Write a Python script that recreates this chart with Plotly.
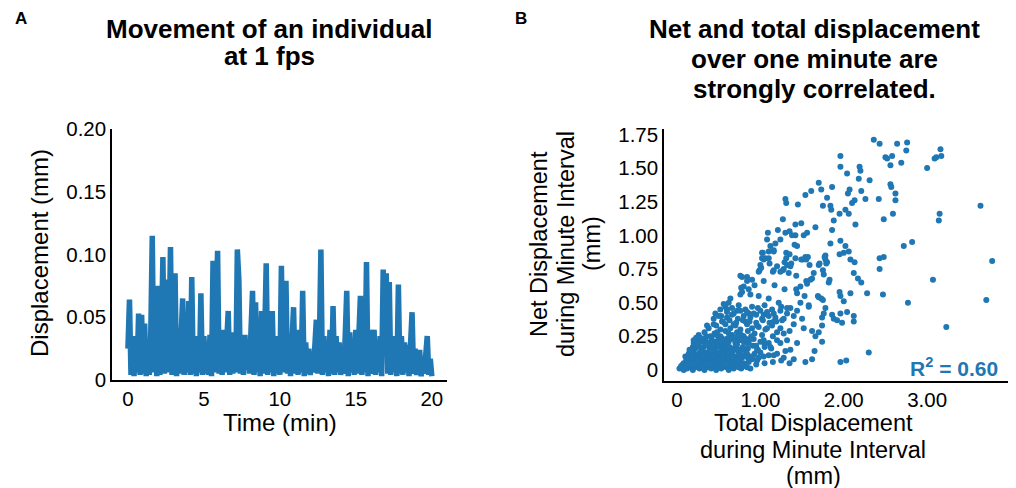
import plotly.graph_objects as go

BLUE = "#1f77b4"
FONT = "Liberation Sans, Arial, sans-serif"

# ---------------- Panel A data: displacement per sample (every 0.1 min) ----------------
time_min = [round(i * 0.1, 1) for i in range(201)]
displacement_mm = [
    0.025, 0.064, 0.004, 0.035, 0.003, 0.030, 0.006, 0.053, 0.004, 0.052,
    0.005, 0.045, 0.003, 0.028, 0.004, 0.035, 0.115, 0.006, 0.040, 0.003,
    0.075, 0.004, 0.035, 0.098, 0.005, 0.080, 0.006, 0.030, 0.106, 0.004,
    0.040, 0.085, 0.003, 0.035, 0.005, 0.030, 0.065, 0.004, 0.038, 0.006,
    0.063, 0.004, 0.082, 0.005, 0.035, 0.003, 0.030, 0.006, 0.069, 0.004,
    0.035, 0.005, 0.030, 0.004, 0.036, 0.003, 0.095, 0.006, 0.040, 0.103,
    0.005, 0.035, 0.004, 0.040, 0.006, 0.030, 0.055, 0.004, 0.038, 0.005,
    0.035, 0.006, 0.104, 0.080, 0.005, 0.032, 0.004, 0.036, 0.008, 0.030,
    0.005, 0.040, 0.071, 0.004, 0.062, 0.006, 0.045, 0.003, 0.055, 0.005,
    0.035, 0.093, 0.004, 0.040, 0.006, 0.055, 0.003, 0.035, 0.005, 0.030,
    0.004, 0.091, 0.006, 0.040, 0.079, 0.005, 0.035, 0.003, 0.045, 0.058,
    0.005, 0.035, 0.004, 0.040, 0.006, 0.071, 0.003, 0.030, 0.005, 0.025,
    0.004, 0.020, 0.006, 0.035, 0.048, 0.005, 0.030, 0.104, 0.004, 0.035,
    0.006, 0.028, 0.003, 0.040, 0.005, 0.059, 0.004, 0.035, 0.006, 0.030,
    0.004, 0.025, 0.005, 0.035, 0.071, 0.003, 0.038, 0.006, 0.030, 0.004,
    0.040, 0.005, 0.045, 0.067, 0.004, 0.035, 0.006, 0.094, 0.003, 0.040,
    0.005, 0.035, 0.040, 0.004, 0.030, 0.006, 0.035, 0.003, 0.088, 0.040,
    0.085, 0.005, 0.078, 0.004, 0.035, 0.006, 0.030, 0.003, 0.076, 0.005,
    0.035, 0.004, 0.030, 0.006, 0.028, 0.003, 0.035, 0.054, 0.005, 0.025,
    0.004, 0.020, 0.024, 0.003, 0.018, 0.005, 0.030, 0.035, 0.004, 0.017,
    0.003,
]

a_xticks = [0, 5, 10, 15, 20]
a_yticks = [0, 0.05, 0.10, 0.15, 0.20]
a_yticklabels = ["0", "0.05", "0.10", "0.15", "0.20"]

# ---------------- Panel B data: total vs net displacement per minute ----------------
# dense cluster near origin
cluster_x = [
    0.03, 0.06, 0.08, 0.10, 0.12, 0.15, 0.17, 0.19, 0.22, 0.25, 0.27, 0.30, 0.33, 0.35, 0.38, 0.41, 0.44, 0.47,
    0.50, 0.53, 0.56, 0.59, 0.62, 0.65, 0.68, 0.71, 0.74, 0.77, 0.80, 0.84, 0.88, 0.95, 1.05, 1.15, 1.35, 1.25,
    0.08, 0.11, 0.14, 0.18, 0.21, 0.24, 0.28, 0.31, 0.34, 0.37, 0.40, 0.43, 0.46, 0.49, 0.52, 0.55, 0.58, 0.61,
    0.64, 0.67, 0.70, 0.73, 0.76, 0.80, 0.90, 0.98,
    0.10, 0.14, 0.17, 0.20, 0.23, 0.26, 0.29, 0.32, 0.35, 0.38, 0.41, 0.44, 0.47, 0.50, 0.53, 0.56, 0.59, 0.62,
    0.66, 0.70, 0.74, 0.78, 0.83, 0.88, 0.93, 1.00, 1.10, 1.20,
    0.15, 0.19, 0.22, 0.26, 0.29, 0.32, 0.36, 0.39, 0.42, 0.45, 0.48, 0.51, 0.54, 0.57, 0.60, 0.63, 0.67, 0.71,
    0.75, 0.79, 0.85, 0.91, 0.97, 1.05, 1.13, 1.30,
    0.20, 0.25, 0.30, 0.34, 0.38, 0.42, 0.46, 0.50, 0.54, 0.58, 0.62, 0.66, 0.70, 0.75, 0.80, 0.86, 0.92, 1.00,
    1.10, 1.20,
    0.26, 0.33, 0.45, 0.52, 0.58, 0.66, 0.72, 0.80, 0.85, 0.93, 1.02, 1.15, 1.28,
    0.05, 0.09, 0.13, 0.16, 0.20, 0.24, 0.28, 0.32, 0.36, 0.40, 0.45, 0.50, 0.55, 0.60, 0.65, 0.70, 0.78,
    0.12, 0.18, 0.24, 0.30, 0.36, 0.42, 0.48, 0.54, 0.60, 0.68, 0.35, 0.44, 0.56, 0.63,
    0.07, 0.11, 0.16, 0.21, 0.26, 0.31, 0.36, 0.41, 0.46, 0.51, 0.56, 0.61, 0.66, 0.71, 0.76, 0.81, 0.86,
    0.13, 0.19, 0.25, 0.31, 0.37, 0.43, 0.49, 0.55, 0.61, 0.67, 0.73, 0.79, 0.85, 0.91,
    0.18, 0.24, 0.30, 0.36, 0.42, 0.48, 0.54, 0.60, 0.66, 0.72, 0.78, 0.84, 0.95, 1.05,
    0.23, 0.29, 0.35, 0.41, 0.47, 0.53, 0.59, 0.65, 0.71, 0.77, 0.83, 0.89,
]
cluster_y = [
    0.01, 0.02, 0.00, 0.03, 0.01, 0.02, 0.04, 0.00, 0.02, 0.03, 0.01, 0.02, 0.00, 0.03, 0.02, 0.01, 0.03, 0.00,
    0.02, 0.01, 0.03, 0.02, 0.00, 0.02, 0.01, 0.03, 0.02, 0.01, 0.03, 0.02, 0.01, 0.04, 0.05, 0.06, 0.05, 0.07,
    0.05, 0.07, 0.06, 0.08, 0.05, 0.07, 0.06, 0.08, 0.05, 0.07, 0.06, 0.09, 0.05, 0.07, 0.08, 0.06, 0.07, 0.05,
    0.08, 0.06, 0.07, 0.09, 0.06, 0.05, 0.08, 0.09,
    0.10, 0.12, 0.11, 0.13, 0.10, 0.12, 0.14, 0.11, 0.13, 0.10, 0.12, 0.14, 0.11, 0.13, 0.10, 0.12, 0.14, 0.11,
    0.13, 0.10, 0.12, 0.11, 0.14, 0.10, 0.12, 0.13, 0.11, 0.12,
    0.15, 0.17, 0.16, 0.18, 0.15, 0.17, 0.19, 0.16, 0.18, 0.15, 0.17, 0.19, 0.16, 0.18, 0.15, 0.17, 0.16, 0.18,
    0.15, 0.17, 0.16, 0.18, 0.15, 0.17, 0.16, 0.14,
    0.20, 0.22, 0.21, 0.23, 0.20, 0.22, 0.21, 0.23, 0.20, 0.22, 0.21, 0.23, 0.20, 0.22, 0.21, 0.20, 0.23, 0.21,
    0.20, 0.22,
    0.26, 0.28, 0.27, 0.25, 0.29, 0.26, 0.28, 0.25, 0.29, 0.27, 0.26, 0.25, 0.27,
    0.03, 0.04, 0.08, 0.03, 0.09, 0.04, 0.10, 0.04, 0.09, 0.04, 0.10, 0.04, 0.09, 0.04, 0.10, 0.04, 0.09,
    0.02, 0.14, 0.07, 0.15, 0.07, 0.16, 0.08, 0.14, 0.09, 0.15, 0.19, 0.18, 0.19, 0.24,
    0.04, 0.03, 0.05, 0.04, 0.06, 0.03, 0.05, 0.04, 0.06, 0.03, 0.05, 0.04, 0.06, 0.03, 0.05, 0.04, 0.06,
    0.09, 0.10, 0.08, 0.11, 0.09, 0.10, 0.08, 0.11, 0.09, 0.10, 0.08, 0.11, 0.09, 0.10,
    0.14, 0.19, 0.15, 0.20, 0.14, 0.19, 0.15, 0.20, 0.14, 0.19, 0.15, 0.20, 0.18, 0.19,
    0.24, 0.23, 0.25, 0.24, 0.26, 0.24, 0.23, 0.25, 0.24, 0.26, 0.23, 0.25,
]

# middle band
spread_x = [
    0.38, 0.47, 0.52, 0.58, 0.64, 0.70, 0.76, 0.84, 0.90, 0.98, 1.06, 1.14, 1.24, 1.35,
    0.44, 0.53, 0.60, 0.66, 0.73, 0.80, 0.88, 0.95, 1.02, 1.10, 1.18, 1.26, 1.40, 1.50,
    0.52, 0.58, 0.66, 0.74, 0.82, 0.90, 0.97, 1.05, 1.14, 1.25, 1.36, 1.44, 1.58,
    1.02, 1.16, 1.31, 1.55, 1.78, 1.04, 1.29, 1.37, 1.49, 1.59, 1.71, 1.80, 1.00, 1.11, 0.99, 1.15, 1.27, 1.34,
    1.43, 1.75, 0.76, 0.84, 1.62, 1.55, 1.83, 1.04, 0.80, 0.77, 0.93, 1.17, 1.29, 1.43, 1.53, 1.69, 1.73, 0.64,
    0.62, 0.88, 0.98, 1.10, 1.22, 1.32, 1.48, 1.58, 1.78, 1.86, 1.74, 0.56, 0.46, 0.50, 0.60, 0.72, 0.86, 1.04,
    1.16, 1.28, 1.40, 1.52, 1.62, 1.70, 0.36, 0.44, 0.54, 0.68, 0.82, 0.96, 1.08, 1.20, 1.32, 1.44, 1.24, 1.04,
    1.12, 1.36, 0.20, 0.28, 0.40, 0.48, 0.62, 0.76, 0.88, 0.96, 1.04, 1.16, 1.28, 1.40, 0.96, 0.84, 0.70,
    0.55, 0.63, 0.71, 0.79, 0.87, 0.95, 1.03, 1.11, 1.19, 0.60, 0.68, 0.76, 0.84, 0.92, 1.00, 1.08, 1.16, 1.24,
    1.32,
]
spread_y = [
    0.31, 0.33, 0.30, 0.34, 0.31, 0.33, 0.30, 0.34, 0.31, 0.32, 0.30, 0.33, 0.31, 0.29,
    0.38, 0.40, 0.39, 0.41, 0.38, 0.40, 0.39, 0.41, 0.38, 0.40, 0.39, 0.37, 0.40, 0.38,
    0.45, 0.47, 0.46, 0.48, 0.45, 0.47, 0.46, 0.48, 0.45, 0.47, 0.46, 0.44, 0.48,
    0.87, 0.88, 0.87, 0.82, 0.82, 0.82, 0.80, 0.79, 0.82, 0.78, 0.79, 0.80, 0.78, 0.79, 0.74, 0.73, 0.74, 0.72,
    0.70, 0.74, 0.70, 0.69, 0.68, 0.66, 0.67, 0.66, 0.62, 0.61, 0.63, 0.63, 0.60, 0.60, 0.55, 0.55, 0.53, 0.53,
    0.50, 0.56, 0.55, 0.53, 0.50, 0.46, 0.50, 0.47, 0.46, 0.41, 0.39, 0.49, 0.42, 0.40, 0.45, 0.44, 0.42, 0.41,
    0.36, 0.38, 0.34, 0.31, 0.29, 0.28, 0.33, 0.34, 0.36, 0.34, 0.36, 0.33, 0.31, 0.28, 0.22, 0.20, 0.20, 0.22,
    0.17, 0.15, 0.22, 0.24, 0.25, 0.28, 0.27, 0.26, 0.23, 0.15, 0.10, 0.11, 0.09, 0.08, 0.07, 0.12, 0.15,
    0.36, 0.37, 0.35, 0.37, 0.36, 0.35, 0.37, 0.35, 0.36, 0.43, 0.42, 0.44, 0.43, 0.42, 0.44, 0.43, 0.42, 0.44,
    0.42,
]

# upper / outer points
outer_x = [
    2.36, 2.43, 2.64, 2.76, 2.75, 3.16, 3.11, 3.17, 3.09, 3.00, 2.50, 2.52, 2.58, 2.56, 2.69, 1.96, 1.96, 2.19,
    2.20, 2.04, 2.18, 2.31, 1.70, 1.86, 1.73, 1.61, 1.54, 2.07, 2.05, 2.21, 2.26, 2.42, 2.56, 2.57, 2.62, 2.62,
    2.59, 2.48, 2.13, 2.10, 1.80, 1.75, 1.84, 1.85, 1.95, 2.02, 2.06, 1.88, 1.86, 2.14, 1.30, 1.31, 1.45, 1.27,
    1.49, 1.42, 1.66, 1.35, 1.56, 1.21, 1.09, 1.30, 1.42, 1.52, 1.84, 1.96, 2.02, 2.06, 2.00, 1.95, 2.08, 2.13,
    2.12, 2.17, 2.21, 1.78, 1.77, 1.79, 1.70, 1.76, 1.82, 2.43, 2.48, 2.43, 2.72, 2.82, 3.64, 3.15, 3.14, 3.78,
    3.07, 3.71, 2.77, 3.23, 2.47, 2.28, 2.08, 1.95, 1.96, 2.00, 2.04, 1.96, 1.88, 1.92, 1.98, 2.12, 2.12, 2.30,
    2.03, 1.96, 1.74, 1.65, 1.62, 1.54, 1.76, 1.74, 1.66, 1.75, 1.70, 1.64, 1.60, 1.56, 1.48, 1.44, 1.54, 1.57,
    1.51, 1.42, 1.35, 1.31, 1.32, 1.36, 1.28, 1.24, 1.18, 1.12, 1.16, 1.08, 1.10, 1.03, 1.02, 1.06, 1.10, 1.38,
    1.44, 1.41, 1.16, 1.20, 1.24, 0.98, 1.01, 0.90, 0.78, 0.84, 0.78, 0.76, 0.86,
]
outer_y = [
    1.71, 1.68, 1.68, 1.69, 1.63, 1.64, 1.58, 1.59, 1.57, 1.50, 1.58, 1.57, 1.59, 1.52, 1.54, 1.59, 1.51, 1.51,
    1.48, 1.46, 1.42, 1.41, 1.39, 1.36, 1.34, 1.33, 1.30, 1.34, 1.31, 1.33, 1.27, 1.27, 1.38, 1.36, 1.31, 1.26,
    1.16, 1.12, 1.26, 1.24, 1.28, 1.22, 1.22, 1.19, 1.16, 1.19, 1.16, 1.11, 1.04, 1.08, 1.27, 1.24, 1.23, 1.12,
    1.09, 1.08, 1.06, 1.03, 1.02, 1.04, 1.02, 1.02, 1.00, 1.00, 0.94, 0.96, 0.92, 0.88, 0.87, 0.86, 0.82, 0.80,
    0.72, 0.68, 0.65, 0.85, 0.84, 0.79, 0.78, 0.71, 0.65, 0.83, 0.84, 0.75, 0.92, 0.95, 1.22, 1.16, 1.11, 0.81,
    0.67, 0.52, 0.50, 0.32, 0.56, 0.57, 0.57, 0.58, 0.55, 0.51, 0.43, 0.42, 0.38, 0.37, 0.35, 0.40, 0.36, 0.13,
    0.07, 0.06, 0.21, 0.14, 0.08, 0.06, 0.42, 0.33, 0.25, 0.52, 0.54, 0.72, 0.67, 0.64, 0.62, 0.57, 0.84, 0.84,
    0.82, 0.83, 0.86, 0.83, 0.78, 0.77, 0.75, 0.97, 0.94, 0.92, 0.89, 0.97, 0.88, 0.87, 0.83, 0.83, 0.83, 1.00,
    0.92, 0.93, 0.74, 0.77, 0.73, 0.73, 0.76, 0.67, 0.69, 0.66, 0.58, 0.56, 0.60,
]

b_xticks = [0, 1, 2, 3]
b_xticklabels = ["0", "1.00", "2.00", "3.00"]
b_yticks = [0, 0.25, 0.5, 0.75, 1.0, 1.25, 1.5, 1.75]
b_yticklabels = ["0", "0.25", "0.50", "0.75", "1.00", "1.25", "1.50", "1.75"]
r_squared_text = "R<sup>2</sup> = 0.60"

# The page body has an 8px margin; the figure covers window pixels 8..1016 x 8..488.
OFF = 8
W, H = 1008, 480


def px(x):
    return (x - OFF) / W


def py(y):
    return 1 - (y - OFF) / H


fig = go.Figure()

fig.add_trace(go.Scatter(
    x=time_min, y=displacement_mm, mode="lines",
    line=dict(color=BLUE, width=5.5), xaxis="x", yaxis="y", showlegend=False,
    hoverinfo="skip",
))

scatter_x = cluster_x + spread_x + outer_x
scatter_y = cluster_y + spread_y + outer_y
fig.add_trace(go.Scatter(
    x=scatter_x, y=scatter_y, mode="markers",
    marker=dict(color=BLUE, size=6, line=dict(width=0)),
    xaxis="x2", yaxis="y2", showlegend=False, hoverinfo="skip",
))

axis_common = dict(
    showgrid=False, zeroline=False, showline=True, linecolor="black", linewidth=1.5,
    ticks="", automargin=False, tickfont=dict(family=FONT, size=20.5, color="black"),
)

fig.update_layout(
    template="none",
    width=W, height=H,
    margin=dict(l=0, r=0, t=0, b=0, pad=0, autoexpand=False),
    paper_bgcolor="white", plot_bgcolor="white",
    xaxis=dict(domain=[px(112), px(447)], range=[-1.05, 21.0], tickvals=a_xticks,
               anchor="y", **axis_common),
    yaxis=dict(domain=[py(380), py(129)], range=[0, 0.2], tickvals=a_yticks,
               ticktext=a_yticklabels, anchor="x", **axis_common),
    xaxis2=dict(domain=[px(664), px(1008)], range=[-0.156, 3.97], tickvals=b_xticks,
                ticktext=b_xticklabels, anchor="y2", **axis_common),
    yaxis2=dict(domain=[py(381), py(129)], range=[-0.082, 1.79], tickvals=b_yticks,
                ticktext=b_yticklabels, anchor="x2", **axis_common),
)

ann = []


def text(x, y, s, size, bold=False, color="black", angle=0, xanchor="center"):
    ann.append(dict(
        x=px(x), y=py(y), xref="paper", yref="paper", text=("<b>%s</b>" % s) if bold else s,
        showarrow=False, xanchor=xanchor, yanchor="middle", textangle=angle,
        font=dict(family=FONT, size=size, color=color),
    ))


# panel letters
text(21, 18, "A", 17, bold=True)
text(521, 18, "B", 17, bold=True)
# titles
text(269, 29, "Movement of an individual", 26, bold=True)
text(269, 56, "at 1 fps", 26, bold=True)
text(814, 29, "Net and total displacement", 26, bold=True)
text(814, 59, "over one minute are", 26, bold=True)
text(814, 89, "strongly correlated.", 26, bold=True)
# panel A axis titles
text(280, 422, "Time (min)", 24)
text(40, 253, "Displacement (mm)", 24, angle=-90)
# panel B axis titles
text(813, 423, "Total Displacement", 23.5)
text(813, 450, "during Minute Interval", 23.5)
text(813, 476, "(mm)", 23.5)
text(539, 244, "Net Displacement", 23.5, angle=-90)
text(566, 244, "during Minute Interval", 23.5, angle=-90)
text(592, 244, "(mm)", 23.5, angle=-90)
# R^2
text(1000, 367, r_squared_text, 21, bold=True, color=BLUE, xanchor="right")

fig.update_layout(annotations=ann)

fig.write_html("out.html")
